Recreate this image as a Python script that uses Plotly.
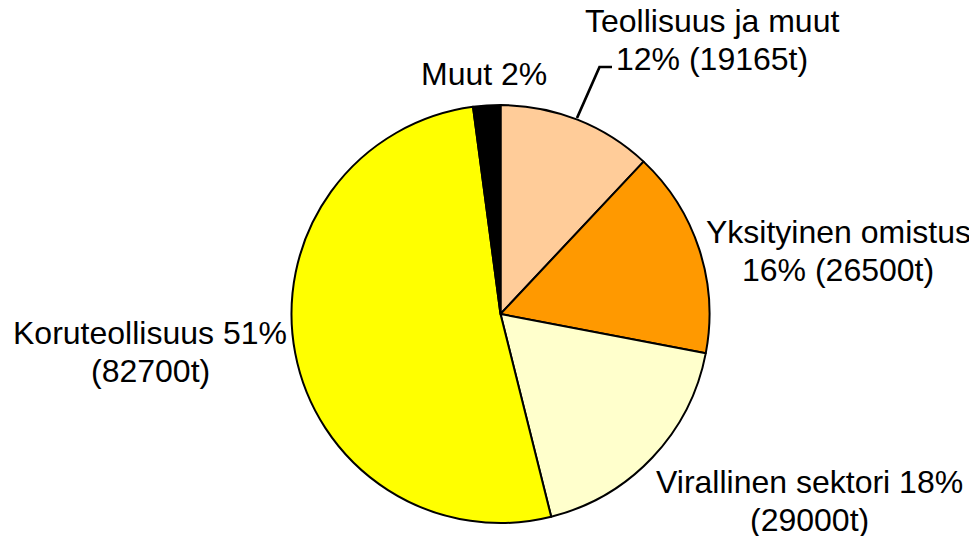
import plotly.graph_objects as go

categories = ["Teollisuus ja muut", "Yksityinen omistus", "Virallinen sektori", "Koruteollisuus", "Muut"]
# slice shares (%)
shares = [12.0, 16.0, 18.1, 51.8, 2.1]
tonnes = [19165, 26500, 29000, 82700, None]
colors = ["#FFCC99", "#FF9900", "#FFFFCC", "#FFFF00", "#000000"]
label_lines = [
    ["Teollisuus ja muut", "12% (19165t)"],
    ["Yksityinen omistus", "16% (26500t)"],
    ["Virallinen sektori 18%", "(29000t)"],
    ["Koruteollisuus 51%", "(82700t)"],
    ["Muut 2%"],
]

OFF = 8  # browser body margin
W, H = 977 - OFF, 536 - OFF
cx, cy, r = 500.5 - OFF, 314 - OFF, 209


def px(x, y):
    return (x - OFF) / W, 1 - (y - OFF) / H


fig = go.Figure(go.Pie(
    labels=categories, values=shares, sort=False, direction="clockwise", rotation=0,
    marker=dict(colors=colors, line=dict(color="black", width=2)),
    textinfo="none", hoverinfo="label+percent", showlegend=False,
    domain=dict(x=[(cx - r) / W, (cx + r) / W], y=[(H - cy - r) / H, (H - cy + r) / H]),
))

# label centers in screen px: x, first line y
label_pos = [(712, 21), (838, 232), (809, 482), (150, 333), (484, 74)]
spacing = 38
annotations = []
for lines, (x, y) in zip(label_lines, label_pos):
    for i, t in enumerate(lines):
        ax, ay = px(x, y + i * spacing)
        annotations.append(dict(
            x=ax, y=ay, xref="paper", yref="paper",
            text=t, showarrow=False, xanchor="center", yanchor="middle",
            font=dict(family="Liberation Sans, Arial", size=32, color="black"),
        ))

p1, p2, p3 = px(577, 118), px(599.5, 67), px(612, 67)
fig.update_layout(
    width=W, height=H, margin=dict(l=0, r=0, t=0, b=0),
    paper_bgcolor="white", plot_bgcolor="white",
    annotations=annotations,
    shapes=[dict(type="path", xref="paper", yref="paper",
                 path=f"M {p1[0]} {p1[1]} L {p2[0]} {p2[1]} L {p3[0]} {p3[1]}",
                 line=dict(color="black", width=2.7))],
)
fig.write_html("out.html")
